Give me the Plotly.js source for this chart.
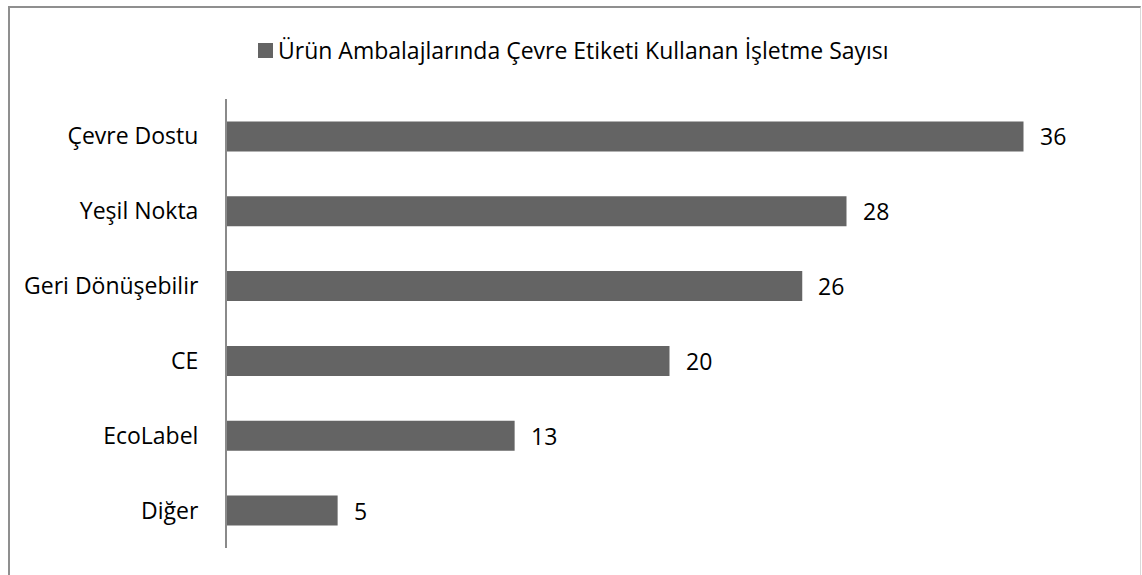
<!DOCTYPE html>
<html>
<head>
<meta charset="utf-8">
<script src="https://cdn.plot.ly/plotly-3.0.1.min.js"></script>
<style>
html,body{margin:0;padding:0;background:#fff;}
#wrap{position:relative;width:1142px;height:575px;overflow:hidden;}
#frame{position:absolute;left:8px;top:6px;width:1133px;height:600px;border-left:2px solid #8f8f8f;border-top:2px solid #8f8f8f;border-right:1px solid #d9d9d9;box-sizing:border-box;pointer-events:none;}
#chart{position:absolute;left:0;top:0;width:1142px;height:575px;}
</style>
</head>
<body>
<div id="wrap">
<div id="chart"></div>
<div id="frame"></div>
</div>
<script>
const categories = ["Çevre Dostu", "Yeşil Nokta", "Geri Dönüşebilir", "CE", "EcoLabel", "Diğer"];
const values = [36, 28, 26, 20, 13, 5];
const seriesName = "Ürün Ambalajlarında Çevre Etiketi Kullanan İşletme Sayısı";

const FONT = "'Open Sans', 'Noto Sans', sans-serif";
const BAR_COLOR = '#646464';
const W = 1142, H = 575;
const M = {l: 227, r: 30, t: 99, b: 27};
const PW = W - M.l - M.r, PH = H - M.t - M.b;
const px2x = p => (p - M.l) / PW;
const px2y = p => (H - M.b - p) / PH;

const trace = {
  type: 'bar',
  orientation: 'h',
  x: values,
  y: categories,
  name: seriesName,
  marker: {color: BAR_COLOR},
  showlegend: false,
  hoverinfo: 'none'
};

const annotations = categories.map((c, i) => ({
  x: values[i], y: c, xref: 'x', yref: 'y',
  text: String(values[i]), showarrow: false,
  xanchor: 'left', yanchor: 'middle', xshift: 14,
  font: {family: FONT, size: 23, color: '#000'}
}));

// legend (drawn as swatch + label)
annotations.push({
  xref: 'paper', yref: 'paper', x: px2x(276), y: px2y(50),
  xanchor: 'left', yanchor: 'middle', showarrow: false,
  text: seriesName,
  font: {family: FONT, size: 23, color: '#000'}
});

const shapes = [{
  type: 'rect', xref: 'paper', yref: 'paper',
  x0: px2x(258), x1: px2x(273), y0: px2y(58), y1: px2y(43),
  fillcolor: BAR_COLOR, line: {width: 0}
}];

const layout = {
  width: W, height: H,
  margin: M,
  paper_bgcolor: '#fff', plot_bgcolor: '#fff',
  font: {family: FONT, size: 23, color: '#000'},
  bargap: 0.6,
  showlegend: false,
  xaxis: {range: [0, 40], showgrid: false, zeroline: false, showticklabels: false, showline: false, ticks: ''},
  yaxis: {
    autorange: 'reversed', showgrid: false, zeroline: false,
    showline: true, linecolor: '#8a8a8a', linewidth: 2,
    ticks: '', ticklabelstandoff: 22,
    tickfont: {family: FONT, size: 23, color: '#000'}
  },
  annotations: annotations,
  shapes: shapes
};

Plotly.newPlot('chart', [trace], layout, {staticPlot: true, displayModeBar: false});
</script>
</body>
</html>
